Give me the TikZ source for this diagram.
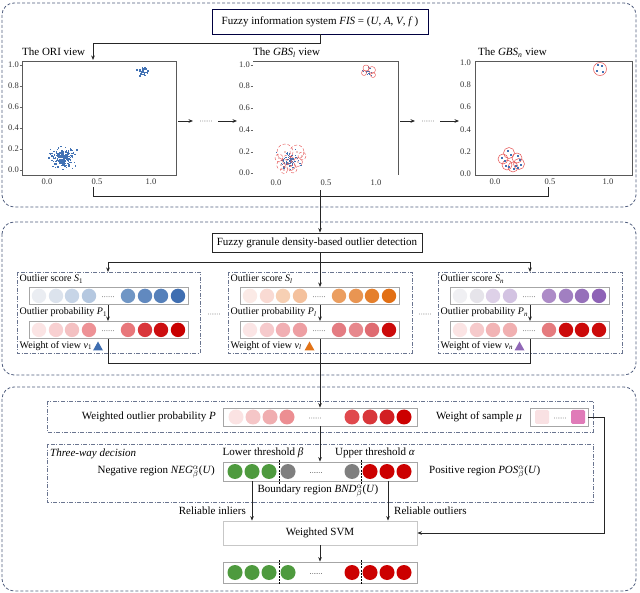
\documentclass[tikz,border=0pt]{standalone}
\usepackage{fontspec}
\setmainfont{Liberation Serif}
\usetikzlibrary{arrows.meta,calc}
\definecolor{pnl}{HTML}{4F5D7E}
\definecolor{sbx}{HTML}{6A7590}
\definecolor{ptblue}{HTML}{4272B4}
\definecolor{gbred}{HTML}{E65A5A}
\definecolor{B1}{HTML}{EAEDF2}\definecolor{B2}{HTML}{DCE3ED}\definecolor{B3}{HTML}{C7D5E7}\definecolor{B4}{HTML}{B5C8E0}
\definecolor{B5}{HTML}{7096C5}\definecolor{B6}{HTML}{6189BF}\definecolor{B7}{HTML}{5580BA}\definecolor{B8}{HTML}{3F6EB1}
\definecolor{R1}{HTML}{FBE4E4}\definecolor{R2}{HTML}{F8D0D1}\definecolor{R3}{HTML}{F4C1C2}\definecolor{R4}{HTML}{EE9296}
\definecolor{R5}{HTML}{E8777B}\definecolor{R6}{HTML}{D9353A}\definecolor{R7}{HTML}{CC0E10}\definecolor{R8}{HTML}{C90000}
\definecolor{O1}{HTML}{FBEAE6}\definecolor{O2}{HTML}{F9DAD3}\definecolor{O3}{HTML}{F7D0B4}\definecolor{O4}{HTML}{F4C19D}
\definecolor{O5}{HTML}{EB9E60}\definecolor{O6}{HTML}{E99552}\definecolor{O7}{HTML}{E57F2C}\definecolor{O8}{HTML}{E26F14}
\definecolor{Q1}{HTML}{FBE5E5}\definecolor{Q2}{HTML}{F6CACC}\definecolor{Q3}{HTML}{F1AFB3}\definecolor{Q4}{HTML}{EE9FA3}
\definecolor{Q5}{HTML}{E47C82}\definecolor{Q6}{HTML}{E7888D}\definecolor{Q7}{HTML}{DF6B71}\definecolor{Q8}{HTML}{CC0A0A}
\definecolor{U1}{HTML}{F0F0F3}\definecolor{U2}{HTML}{E6E4EA}\definecolor{U3}{HTML}{DED1E8}\definecolor{U4}{HTML}{D3C3E2}
\definecolor{U5}{HTML}{AD8BC7}\definecolor{U6}{HTML}{A17FC1}\definecolor{U7}{HTML}{9670BA}\definecolor{U8}{HTML}{8E62B6}
\definecolor{V1}{HTML}{FBE4E4}\definecolor{V2}{HTML}{F6CACB}\definecolor{V3}{HTML}{F2B4B5}\definecolor{V4}{HTML}{F1B0B1}
\definecolor{V5}{HTML}{E57B7E}\definecolor{V6}{HTML}{CC0A0A}\definecolor{V7}{HTML}{CC0A0A}\definecolor{V8}{HTML}{CC0A0A}
\definecolor{W1}{HTML}{FBE3E3}\definecolor{W2}{HTML}{F5C6C7}\definecolor{W3}{HTML}{F0AEB0}\definecolor{W4}{HTML}{EC8E92}
\definecolor{W5}{HTML}{E0494D}\definecolor{W6}{HTML}{D8363A}\definecolor{W7}{HTML}{D21F23}\definecolor{W8}{HTML}{CC0000}
\definecolor{grn}{HTML}{4E9A3E}
\definecolor{gry}{HTML}{7F7F7F}
\definecolor{rd}{HTML}{CC0000}
\definecolor{triblue}{HTML}{3E6DB0}
\definecolor{triorange}{HTML}{E27318}
\definecolor{tripurple}{HTML}{9168B7}
\definecolor{mulight}{HTML}{F9E1E3}
\definecolor{mudark}{HTML}{E07BB8}
\newcommand\isub[2]{\textit{#1}\textsubscript{\textit{#2}}}
\newcommand\rsub[2]{\textit{#1}\textsubscript{#2}}
\newcommand\dotrow[2]{\foreach \ii in {0,...,5}{\fill[black!75] ({#1-5.5+2.2*\ii},{#2}) circle (0.42);}}
\tikzset{
  panel/.style={draw=pnl, dash pattern=on 3pt off 2pt, line width=0.8pt, rounded corners=12pt},
  subbox/.style={draw=sbx, dash pattern=on 4pt off 1.5pt on 1pt off 1.5pt, line width=0.6pt},
  bar/.style={draw=black!35, fill=white, line width=0.8pt, inner sep=0pt},
  titlebox/.style={draw=#1, fill=white, line width=0.9pt, inner sep=0pt, font=\fontsize{11}{13}\selectfont},
  conn/.style={draw=black!85, line width=0.7pt},
  arr/.style={conn, -{Stealth[length=4.5pt,width=3.6pt]}},
  lbl/.style={inner sep=0pt, font=\fontsize{10}{12}\selectfont},
  biglbl/.style={inner sep=0pt, font=\fontsize{11}{13}\selectfont},
  tick/.style={inner sep=0pt, font=\fontsize{8.5}{10}\selectfont, text=black!80},
  frame/.style={draw=black!65, line width=0.7pt},
  gb/.style={draw=gbred, line width=0.45pt},
  thr/.style={draw=black, line width=0.8pt, dash pattern=on 2pt off 1.2pt},
}
\begin{document}
\begin{tikzpicture}[x=1pt,y=-1pt]
\useasboundingbox (0,0) rectangle (640,593);
% ---------------- panels
\draw[panel] (2,3) rectangle (636,207);
\draw[panel] (2,222) rectangle (636,375);
\draw[panel] (2,387) rectangle (636,591);

% ---------------- panel 1
\node[titlebox=black!75!blue, minimum width=216, minimum height=25] (fis) at (320,21.5)
  {Fuzzy information system \textit{FIS} = (\textit{U}, \textit{A}, \textit{V}, \textit{f}\,)};
\node[biglbl, anchor=base west] (t1) at (22,56) {The ORI view};
\node[biglbl, anchor=base west] (t2) at (253,56) {The \isub{GBS}{l} view};
\node[biglbl, anchor=base west] (t3) at (478,56) {The \isub{GBS}{n} view};
\coordinate (fa) at (320,43);
\coordinate (fb) at (93,43);
\coordinate (fc) at (93,60);
\draw[arr] (fis.south) -- (fa) -- (fb) -- (fc);

% plot 1
\draw[frame] (22,61) rectangle (176,175);
\foreach \v/\yy in {1.0/65,0.8/86,0.6/107,0.4/128,0.2/149,0.0/170}{
  \node[tick, anchor=east] at (19,\yy) {\v};
  \draw[black!60, line width=0.4pt] (19.5,\yy) -- (22,\yy);
}
\foreach \v/\xx in {0.0/47,0.5/97,1.0/151}{
  \node[tick] at (\xx,182) {\v};
}
\pgfmathsetseed{11}
\foreach \k in {1,...,190}{
  \pgfmathsetmacro\u{0.15+0.052*(rand+rand+rand)}
  \pgfmathsetmacro\v{0.12+0.045*(rand+rand+rand)}
  \fill[ptblue] ({47+104*\u-0.7},{170-105*\v-0.7}) rectangle ++(1.4,1.4);
}
\foreach \k in {1,...,35}{
  \pgfmathsetmacro\u{0.92+0.03*(rand+rand+rand)}
  \pgfmathsetmacro\v{0.945+0.024*(rand+rand+rand)}
  \fill[ptblue] ({47+104*\u-0.7},{170-105*\v-0.7}) rectangle ++(1.4,1.4);
}

% arrows between plots
\coordinate (a1s) at (178,121); \coordinate (a1e) at (193,121);
\coordinate (a2s) at (218,121); \coordinate (a2e) at (237,121);
\draw[arr] (a1s) -- (a1e);
\dotrow{206}{121}
\draw[arr] (a2s) -- (a2e);
\coordinate (a3s) at (400,121); \coordinate (a3e) at (415,121);
\coordinate (a4s) at (440,121); \coordinate (a4e) at (459,121);
\draw[arr] (a3s) -- (a3e);
\dotrow{428}{121}
\draw[arr] (a4s) -- (a4e);

% plot 2
\draw[frame] (253,61) -- (398,61) -- (398,175);
\foreach \v/\yy in {1.0/65,0.8/86,0.6/108,0.4/130,0.2/152,0.0/173}{
  \node[tick, anchor=east] at (250,\yy) {\v};
  \draw[black!60, line width=0.4pt] (250.5,\yy) -- (253,\yy);
}
\foreach \v/\xx in {0.0/276,0.5/326,1.0/376}{
  \node[tick] at (\xx,183) {\v};
}
\pgfmathsetseed{5}
\foreach \k in {1,...,70}{
  \pgfmathsetmacro\px{290+5*(rand+rand+rand)}
  \pgfmathsetmacro\py{160+4.5*(rand+rand+rand)}
  \fill[ptblue] ({\px-0.6},{\py-0.6}) rectangle ++(1.2,1.2);
}
\foreach \k in {1,...,14}{
  \pgfmathsetmacro\px{368+3*(rand+rand)}
  \pgfmathsetmacro\py{71+2.5*(rand+rand)}
  \fill[ptblue] ({\px-0.6},{\py-0.6}) rectangle ++(1.2,1.2);
}
\foreach \cx/\cy/\r in {285/152/8,297/152/7,281/165/4.5,291/166/4.5,298/162/4.5,287/160/5,293/169/4,279/158/4,284/170/3.5,302/156/4}{
  \draw[gb, densely dashed] (\cx,\cy) circle (\r);
  \fill[red!70!black] (\cx,\cy) circle (0.6);
}
\foreach \cx/\cy/\r in {366/68/3,372/70/3.5,364/73/2.5,373/75/2.5}{
  \draw[gb] (\cx,\cy) circle (\r);
}

% plot 3
\draw[frame] (475,61) rectangle (632,175);
\foreach \v/\yy in {1.0/63,0.8/85,0.6/107,0.4/130,0.2/152,0.0/174}{
  \node[tick, anchor=east] at (471,\yy) {\v};
}
\foreach \v/\xx in {0.0/495,0.5/550,1.0/608}{
  \node[tick] at (\xx,182) {\v};
}
\foreach \cx/\cy/\r in {600/69/6.5,509/153/5.5,503/159/5,517/158/5,507/165/5,513/167/5,519/164/5.5}{
  \draw[gb, line width=0.55pt] (\cx,\cy) circle (\r);
}
\foreach \px/\py in {598/65,602/66,597/71,603/72,508/151,511/155,502/158,505/161,518/156,520/160,506/166,509/167,514/169,516/166,521/165,518/168}{
  \fill[ptblue] ({\px-0.6},{\py-0.6}) rectangle ++(1.2,1.2);
}

% bottom bracket of panel 1
\coordinate (b1) at (93,187); \coordinate (b2) at (93,196);
\coordinate (b3) at (548,196); \coordinate (b4) at (548,187);
\coordinate (bt) at (320,190);
\draw[conn] (b1) -- (b2) -- (b3) -- (b4);

% ---------------- panel 2
\node[titlebox=black!85, minimum width=210, minimum height=19] (fg) at (317,242.5)
  {Fuzzy granule density-based outlier detection};
\draw[arr] (bt) -- (fg.north -| bt);

\draw[subbox] (17,272) rectangle (200,353);
\draw[subbox] (228,272) rectangle (412,353);
\draw[subbox] (438,272) rectangle (622,353);

\coordinate (h0) at (320,262);
\coordinate (hl) at (108,262);
\coordinate (hr) at (530,262);
\draw[conn] (fg.south -| h0) -- (h0);
\draw[conn] (hl) -- (hr);
\draw[arr] (hl) -- (108,272);
\draw[arr] (hr) -- (530,272);

% bars
\foreach \nm/\bx in {s1/29,sl/240,sn/450}{
  \node[bar, anchor=north west, minimum width=159, minimum height=17] (\nm) at (\bx,287) {};
}
\foreach \nm/\bx in {p1/29,pl/240,pn/450}{
  \node[bar, anchor=north west, minimum width=159, minimum height=17] (\nm) at (\bx,321) {};
}
\draw[arr] (h0) -- (sl.north -| h0);

\newcommand\rowof[9]{%
  \foreach \dx/\cc in {10/#2,27/#3,43/#4,60/#5,99/#6,116/#7,132/#8,149/#9}{
    \fill[\cc] ($(#1.west)+(\dx,0)$) circle (7.2);
  }
  \path ($(#1.west)+(79,0.8)$) coordinate (tmpd);
  \foreach \ii in {0,...,5}{\fill[black!75] ($(tmpd)+({-5.5+2.2*\ii},0)$) circle (0.42);}
}
\rowof{s1}{B1}{B2}{B3}{B4}{B5}{B6}{B7}{B8}
\rowof{p1}{R1}{R2}{R3}{R4}{R5}{R6}{R7}{R8}
\rowof{sl}{O1}{O2}{O3}{O4}{O5}{O6}{O7}{O8}
\rowof{pl}{Q1}{Q2}{Q3}{Q4}{Q5}{Q6}{Q7}{Q8}
\rowof{sn}{U1}{U2}{U3}{U4}{U5}{U6}{U7}{U8}
\rowof{pn}{V1}{V2}{V3}{V4}{V5}{V6}{V7}{V8}

\node[lbl, anchor=west] (ls1) at (19.5,279) {Outlier score \rsub{S}{1}};
\node[lbl, anchor=west] (lp1) at (19.5,312.5) {Outlier probability \rsub{P}{1}};
\node[lbl, anchor=west] (lw1) at (19.5,346) {Weight of view \rsub{v}{1}};
\node[lbl, anchor=west] (lsl) at (230.5,279) {Outlier score \isub{S}{l}};
\node[lbl, anchor=west] (lpl) at (230.5,312.5) {Outlier probability \isub{P}{l}};
\node[lbl, anchor=west] (lwl) at (230.5,346) {Weight of view \isub{v}{l}};
\node[lbl, anchor=west] (lsn) at (440.5,279) {Outlier score \isub{S}{n}};
\node[lbl, anchor=west] (lpn) at (440.5,312.5) {Outlier probability \isub{P}{n}};
\node[lbl, anchor=west] (lwn) at (440.5,346) {Weight of view \isub{v}{n}};
\fill[triblue] (93,350.5) -- (103,350.5) -- (98,341.5) -- cycle;
\fill[triorange] (304.5,350.5) -- (314.5,350.5) -- (309.5,341.5) -- cycle;
\fill[tripurple] (514.5,350.5) -- (524.5,350.5) -- (519.5,341.5) -- cycle;
\dotrow{214}{314}
\dotrow{425}{314}

\draw[arr] (s1.south -| hl) -- (p1.north -| hl);
\draw[arr] (sl.south -| h0) -- (pl.north -| h0);
\draw[arr] (sn.south -| hr) -- (pn.north -| hr);

\coordinate (g0) at (320,363);
\coordinate (gl) at (108,363);
\coordinate (gr) at (530,363);
\draw[conn] (p1.south -| gl) -- (gl) -- (gr) -- (pn.south -| gr);
\draw[conn] (pl.south -| g0) -- (g0);

% ---------------- panel 3
\draw[subbox] (47,401) rectangle (593,432);
\draw[subbox] (47,444) rectangle (593,502);

\node[bar, minimum width=194, minimum height=18] (wp) at (320,417) {};
\draw[arr] (g0) -- (wp.north);
\foreach \xx/\cc in {236/W1,253/W2,270/W3,287/W4,352/W5,370/W6,387/W7,404/W8}{
  \fill[\cc] (\xx,417) circle (7.5);
}
\dotrow{315}{418}
\node[biglbl, anchor=east] (lwp) at (216,417) {Weighted outlier probability \textit{P}};
\node[biglbl, anchor=west] (lmu) at (436,417) {Weight of sample \textit{μ}};
\node[bar, minimum width=58, minimum height=18] (mu) at (559,417) {};
\fill[mulight, rounded corners=1.5pt] (535,410) rectangle (549,424);
\fill[mudark, rounded corners=1.5pt] (571,410) rectangle (585,424);
\dotrow{560}{418}

\node[biglbl, anchor=west, font=\fontsize{11}{13}\selectfont\itshape] (ltw) at (50,454) {Three-way decision};
\node[biglbl] (llo) at (263,453) {Lower threshold \textit{β}};
\node[biglbl] (lup) at (375,453) {Upper threshold \textit{α}};

\node[bar, minimum width=194, minimum height=19] (tw) at (320,471.5) {};
\draw[arr] (wp.south) -- (tw.north);
\foreach \xx/\cc in {235/grn,252/grn,269/grn,288/gry,352/gry,370/rd,387/rd,404/rd}{
  \fill[\cc] (\xx,471.5) circle (7.5);
}
\dotrow{316}{472.5}
\draw[thr] (279,460) -- (279,483.5);
\draw[thr] (361,460) -- (361,483.5);
\node[biglbl, anchor=east] (lneg) at (215,472) {Negative region \textit{NEG}$^{\alpha}_{\beta}$(\textit{U})};
\node[biglbl, anchor=west] (lpos) at (429,472) {Positive region \textit{POS}$^{\alpha}_{\beta}$(\textit{U})};
\node[biglbl] (lbnd) at (318,491) {Boundary region \textit{BND}$^{\alpha}_{\beta}$(\textit{U})};

\node[bar, draw=black!22, minimum width=194, minimum height=24, font=\fontsize{11}{13}\selectfont] (svm) at (320,533) {Weighted SVM};
\coordinate (ri) at (252,481);
\coordinate (ro) at (388,481);
\draw[arr] (ri) -- (svm.north -| ri);
\draw[arr] (ro) -- (svm.north -| ro);
\node[biglbl, anchor=east] (lri) at (246,511) {Reliable inliers};
\node[biglbl, anchor=west] (lro) at (394,511) {Reliable outliers};

\coordinate (m1) at (604,417);
\coordinate (m2) at (604,533);
\draw[arr] (mu.east) -- (m1) -- (m2) -- (svm.east);

\node[bar, minimum width=194, minimum height=21] (fin) at (320,572.5) {};
\draw[arr] (svm.south) -- (fin.north);
\foreach \xx/\cc in {235/grn,252/grn,269/grn,288/grn,352/rd,370/rd,387/rd,404/rd}{
  \fill[\cc] (\xx,572.5) circle (7.5);
}
\dotrow{316}{573.5}
\draw[thr] (279,560) -- (279,585);
\draw[thr] (361,560) -- (361,585);
\end{tikzpicture}
\end{document}
